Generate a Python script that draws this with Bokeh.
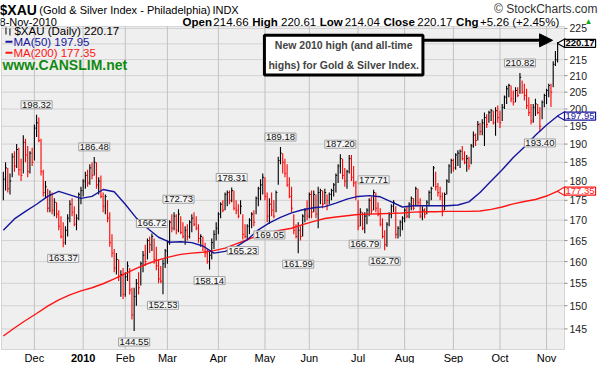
import math
from bokeh.plotting import figure
from bokeh.models import (Range1d, Label, Arrow, NormalHead, BoxAnnotation, ColumnDataSource)
from bokeh.embed import file_html
from bokeh.resources import INLINE

# ---------------- data ----------------
symbol = "$XAU"
last_date = "8-Nov-2010"
last_open = 214.66
month_labels = ["Dec", "2010", "Feb", "Mar", "Apr", "May", "Jun", "Jul", "Aug", "Sep", "Oct", "Nov"]
# trading sessions shown per month: Nov-2009 (from the 10th) ... Nov-2010 (to the 8th)
month_sessions = [14, 22, 19, 19, 23, 21, 20, 22, 21, 22, 21, 21, 6]
price_ticks = [145, 150, 155, 160, 165, 170, 175, 180, 185, 190, 195, 200, 205, 210, 215, 220, 225]

high = [
    182.5, 185.0, 183.5, 182.0, 187.5, 188.0, 190.0, 189.0, 186.0, 192.5, 191.5, 189.5, 188.0, 189.0,
    195.5, 198.32, 197.5, 191.5, 183.0, 180.0, 178.0, 177.5, 177.0, 175.5, 174.5, 172.5, 171.0, 169.5,
    168.5, 171.5, 175.0, 175.5, 173.5, 171.5, 177.0, 178.5,
    180.5, 182.5, 183.0, 184.5, 185.0, 186.48, 185.0, 181.0, 181.5, 177.0, 176.5, 175.0, 172.0, 166.5,
    163.0, 162.0, 160.5, 158.0, 158.5,
    157.5, 160.0, 158.5, 154.0, 154.0, 156.0, 157.5, 160.0, 162.5, 164.0, 165.5, 166.0, 166.72, 165.5,
    163.5, 160.5, 159.0, 160.5, 163.0,
    165.0, 170.0, 171.5, 172.0, 171.5, 172.73, 171.0, 169.5, 168.5, 169.0, 170.0, 171.5, 172.0, 171.0,
    169.0, 166.5, 166.0, 164.5, 163.0, 162.5, 165.5, 167.5, 169.5,
    172.0, 174.5, 175.0, 177.0, 177.5, 177.5, 178.31, 177.5, 175.0, 174.0, 175.0, 171.5, 169.0, 169.0,
    170.5, 172.0, 172.5, 176.0, 178.5, 180.5, 182.0,
    181.0, 177.0, 175.5, 177.0, 175.0, 177.5, 186.5, 189.18, 187.5, 186.0, 184.5, 181.0, 178.5, 171.5,
    169.0, 169.5, 168.5, 171.5, 173.0, 175.0,
    177.0, 177.5, 177.5, 176.5, 178.5, 178.0, 177.5, 178.0, 176.5, 177.0, 178.0, 179.5, 182.0, 184.5,
    187.20, 186.0, 183.5, 183.0, 187.0, 187.0, 184.0, 180.0,
    175.0, 173.0, 172.0, 172.0, 173.0, 175.5, 176.0, 177.71, 177.0, 174.5, 173.0, 170.5, 167.5, 169.5,
    172.0, 174.0, 175.0, 173.5, 168.5, 170.0, 171.0,
    173.0, 173.5, 174.5, 176.0, 175.5, 178.5, 178.0, 175.5, 173.5, 173.0, 175.0, 177.5, 178.5, 184.0,
    182.5, 179.5, 178.5, 177.0, 177.0, 180.5, 184.5, 186.0,
    186.0, 187.5, 188.3, 188.5, 189.5, 188.0, 187.0, 186.5, 190.0, 193.5, 193.0, 196.5, 196.0, 197.0,
    199.0, 198.5, 199.5, 200.0, 199.5, 200.5, 201.0,
    199.5, 201.5, 204.0, 206.9, 207.5, 207.0, 205.5, 206.5, 206.5, 210.82, 208.5, 207.5, 206.0, 203.5,
    201.5, 201.5, 203.0, 201.5, 200.5, 202.5, 204.5,
    206.0, 207.5, 207.5, 214.5, 217.7, 220.61,
]
low = [
    175.0, 177.5, 177.0, 176.5, 181.0, 182.5, 183.5, 181.5, 180.0, 182.0, 185.0, 181.0, 182.0, 184.0,
    185.5, 192.0, 190.5, 181.5, 176.0, 175.5, 172.0, 172.0, 171.5, 171.0, 170.5, 167.5, 165.5, 163.37,
    164.0, 166.0, 169.5, 171.0, 168.5, 167.5, 170.0, 174.0,
    176.0, 178.0, 178.5, 179.0, 180.5, 181.5, 178.0, 176.5, 175.5, 172.0, 171.5, 169.5, 163.5, 161.0,
    157.5, 157.0, 155.5, 152.0, 151.5,
    152.0, 155.5, 152.5, 147.0, 144.55, 150.0, 152.5, 154.5, 157.5, 159.0, 160.5, 162.0, 162.5, 159.5,
    158.0, 155.0, 155.0, 152.53, 158.5,
    159.5, 164.0, 167.0, 167.5, 166.5, 167.0, 166.5, 165.5, 164.0, 165.0, 165.5, 167.0, 168.5, 167.5,
    164.5, 163.5, 162.5, 161.0, 159.5, 158.14, 160.5, 163.0, 165.0,
    166.5, 170.5, 172.0, 172.5, 173.5, 174.0, 174.5, 172.5, 171.5, 170.5, 171.5, 165.23, 165.5, 165.0,
    166.5, 168.0, 168.5, 171.5, 173.5, 175.0, 176.5,
    175.0, 169.5, 169.05, 171.0, 170.5, 172.0, 179.0, 184.5, 182.0, 181.0, 178.5, 175.5, 172.0, 166.5,
    165.5, 161.99, 165.0, 166.0, 169.5, 170.0,
    170.5, 170.5, 172.0, 170.5, 168.0, 174.0, 173.0, 174.0, 172.5, 174.0, 175.0, 176.0, 177.0, 179.5,
    182.0, 180.5, 178.5, 178.0, 182.0, 180.0, 178.5, 175.0,
    167.5, 168.5, 167.5, 166.79, 169.0, 171.0, 171.5, 172.5, 172.0, 171.0, 168.5, 165.5, 162.70, 163.5,
    168.5, 170.5, 172.0, 165.5, 165.5, 166.0, 167.5,
    169.5, 170.5, 170.5, 172.5, 172.5, 173.5, 173.5, 170.5, 170.0, 170.5, 171.5, 173.5, 175.0, 178.5,
    177.5, 176.0, 175.0, 171.0, 172.5, 176.5, 179.5, 182.0,
    182.5, 183.0, 184.0, 183.5, 185.5, 184.5, 182.5, 183.0, 184.5, 189.0, 189.5, 191.0, 192.5, 192.5,
    189.5, 194.5, 196.0, 196.5, 195.5, 192.3, 196.0,
    194.5, 196.5, 200.0, 201.5, 203.5, 202.0, 201.0, 202.0, 203.5, 204.5, 204.5, 202.5, 200.0, 198.0,
    195.5, 196.0, 198.0, 198.5, 193.40, 197.0, 200.5,
    201.5, 203.5, 200.6, 206.5, 213.0, 214.04,
]
close = [
    180.5, 183.5, 178.0, 180.0, 186.5, 184.0, 188.5, 183.0, 181.5, 190.5, 187.0, 182.5, 187.5, 185.0,
    194.5, 196.0, 191.0, 182.5, 177.0, 178.5, 173.0, 176.5, 172.5, 174.5, 171.5, 168.5, 166.0, 164.5,
    167.5, 170.5, 174.0, 172.0, 169.0, 170.5, 176.5, 177.5,
    180.0, 181.5, 179.5, 183.5, 181.5, 185.0, 179.0, 180.0, 176.0, 173.5, 176.0, 170.5, 164.5, 162.0,
    158.5, 160.5, 156.5, 157.0, 152.5,
    156.5, 159.0, 153.5, 148.0, 152.0, 155.0, 154.0, 159.5, 161.5, 160.0, 165.0, 164.0, 166.0, 160.5,
    159.0, 156.0, 155.5, 159.5, 162.5,
    164.5, 169.5, 168.0, 171.0, 167.5, 171.5, 167.0, 166.0, 167.5, 166.0, 169.5, 170.5, 169.0, 168.0,
    165.5, 166.0, 163.5, 162.0, 160.0, 161.5, 164.5, 166.5, 168.0,
    171.5, 174.0, 172.5, 176.5, 177.0, 175.0, 177.5, 173.0, 172.5, 171.0, 173.5, 166.5, 166.0, 168.5,
    170.0, 171.5, 169.5, 175.5, 178.0, 179.0, 181.0,
    176.0, 171.0, 174.0, 172.5, 171.0, 177.0, 185.5, 187.5, 185.0, 182.0, 179.0, 176.0, 173.0, 167.5,
    166.0, 167.5, 166.0, 171.0, 172.5, 171.0,
    176.5, 172.0, 176.5, 171.5, 177.0, 177.5, 174.0, 177.0, 175.0, 176.5, 177.5, 179.0, 181.5, 184.0,
    186.0, 181.5, 180.0, 182.5, 186.0, 181.0, 179.5, 176.0,
    168.5, 172.0, 168.0, 171.0, 172.5, 175.0, 172.5, 177.0, 173.0, 171.5, 169.0, 166.0, 164.0, 169.0,
    171.5, 173.5, 174.5, 166.5, 168.0, 169.5, 170.5,
    172.5, 171.0, 174.0, 175.5, 173.0, 178.0, 174.5, 171.0, 172.5, 171.5, 174.5, 177.0, 178.0, 183.5,
    178.5, 177.0, 176.0, 172.5, 176.5, 180.0, 184.0, 185.5,
    183.5, 187.0, 187.5, 188.0, 186.0, 185.0, 186.0, 184.0, 189.5, 192.5, 191.0, 195.5, 193.5, 196.0,
    197.5, 195.5, 199.0, 199.5, 196.0, 199.5, 197.5,
    196.0, 200.5, 203.5, 206.0, 207.0, 203.0, 202.0, 205.5, 204.0, 209.5, 205.0, 204.0, 201.0, 199.0,
    196.5, 200.5, 201.5, 199.0, 195.0, 202.0, 204.0,
    205.5, 207.0, 205.0, 213.5, 214.91, 220.17,
]
ma_step = 5
ma50 = [167.5, 170.3, 172.2, 174.0, 176.0, 177.3, 176.4, 175.5, 176.0, 177.8, 177.2, 174.0, 170.5,
        168.0, 165.8, 164.6, 164.7, 164.5, 163.7, 162.0, 162.4, 163.5, 165.2, 167.6, 169.3, 170.7,
        171.8, 172.6, 173.1, 173.4, 174.3, 175.3, 176.0, 176.2, 175.9, 174.6, 173.3, 173.6, 173.6,
        173.6, 173.6, 173.8, 174.6, 177.0, 180.0, 183.0, 186.3, 189.2, 192.5, 195.4, 197.95]
ma200 = [143.5, 145.2, 146.8, 148.3, 149.9, 151.3, 152.4, 153.3, 154.0, 154.9, 156.0, 157.2, 158.4,
         159.5, 160.4, 161.1, 161.7, 162.0, 162.2, 162.6, 163.2, 164.2, 165.2, 166.3, 167.0, 167.5,
         168.0, 168.9, 169.7, 170.4, 170.8, 171.1, 171.4, 171.5, 171.6, 171.7, 171.8, 172.0, 172.1,
         172.1, 172.2, 172.2, 172.2, 172.3, 172.7, 173.3, 174.1, 174.7, 175.2, 176.1, 177.35]
marked_highs = [15, 41, 67, 79, 103, 125, 152, 167, 233]
marked_lows = [27, 59, 72, 93, 108, 120, 133, 163, 172, 242]
note_text = "New 2010 high (and all-time\nhighs) for Gold & Silver Index."

# ---------------- derived ----------------
n = len(close)
xs = list(range(n))
colors = ["#000000" if i == 0 or close[i] >= close[i - 1] else "#ff0000" for i in xs]
month_starts = []
acc = 0
for d in month_sessions[:-1]:
    acc += d
    month_starts.append(acc)
ma_x = [i * ma_step for i in range(len(ma50))]
chg = close[-1] - close[-2]
pct = chg / close[-2] * 100

# ---------------- layout ----------------
FONT = "Liberation Sans"
W, H = 598, 363                     # canvas == frame (annotations are clipped to the frame)
PL, PR, PT, PB = 1, 564, 26, 349    # price-panel box inside the canvas (pixels)
X_LO, X_HI = -0.83, 253.1           # price-panel session range
Y_LO, Y_HI = 140.7, 225.65          # price-panel price range (log)
ppx = (PR - PL) / (X_HI - X_LO)
kpy = math.log(Y_HI / Y_LO) / (PB - PT)
x_range = Range1d(X_LO - PL / ppx, X_HI + (W - PR) / ppx)
y_range = Range1d(Y_LO * math.exp(-(H - PB) * kpy), Y_HI * math.exp(PT * kpy))


def sx(X):  # reference pixel x -> canvas x
    return PL + (X - 7) * (PR - PL) / 566.0


def sy(Y):  # reference pixel y -> canvas y measured from bottom
    return H - (PT + (Y - 32) * (PB - PT) / 327.0)


p = figure(width=W, height=H, x_range=x_range, y_range=y_range, y_axis_type="log",
           x_axis_location=None, y_axis_location=None, min_border=0,
           output_backend="svg", toolbar_location=None,
           background_fill_color="white", border_fill_color="white", outline_line_color=None)
p.xgrid.visible = False
p.ygrid.visible = False

# price panel background, grid and right-hand price scale
p.add_layout(BoxAnnotation(left=X_LO, right=X_HI, bottom=Y_LO, top=Y_HI, fill_color="#efefef",
                           fill_alpha=1, line_color=None, level="underlay"))
p.segment(x0=[X_LO] * len(price_ticks), x1=[X_HI] * len(price_ticks), y0=price_ticks,
          y1=price_ticks, line_color="#d2d2d2", line_width=1)
p.segment(x0=month_starts, x1=month_starts, y0=[Y_LO] * len(month_starts),
          y1=[Y_HI] * len(month_starts), line_color="#c2c2c2", line_width=1)
p.segment(x0=[X_HI] * len(price_ticks), x1=[X_HI + 3 / ppx] * len(price_ticks), y0=price_ticks,
          y1=price_ticks, line_color="#8a8a8a", line_width=1)

src = ColumnDataSource(dict(x=xs, h=high, l=low, c=close,
                            xr=[i + 0.6 for i in xs], col=colors))
p.segment(x0="x", y0="l", x1="x", y1="h", line_color="col", line_width=1.1, source=src)
p.segment(x0="x", y0="c", x1="xr", y1="c", line_color="col", line_width=1, source=src)

p.line(ma_x, ma200, line_color="#ff1414", line_width=1.4)
p.line(ma_x, ma50, line_color="#16169c", line_width=1.4)

p.add_layout(BoxAnnotation(left=X_LO, right=X_HI, bottom=Y_LO, top=Y_HI, fill_alpha=0,
                           line_color="#8a8a8a", line_width=1))


def txt(x, y, s, size="11px", color="#000000", bold=False, align="left",
        xu="screen", yu="screen", font=FONT, **kw):
    lab = Label(x=x, y=y, x_units=xu, y_units=yu, text=s, text_font=font,
                text_font_size=size, text_color=color,
                text_font_style="bold" if bold else "normal",
                text_align=align, text_baseline="middle", **kw)
    p.add_layout(lab)
    return lab


for t in price_ticks:
    txt(X_HI, t, str(t), size="10.5px", color="#222222", xu="data", yu="data", x_offset=5)

# high / low call-outs
box_style = dict(background_fill_color="#f6f6f6", border_line_color="#a0a0a0", padding=1)
for i in marked_highs:
    txt(i, high[i], f"{high[i]:.2f}", size="9.5px", color="#111111", align="center",
        xu="data", yu="data", y_offset=10, **box_style)
for i in marked_lows:
    txt(i, low[i], f"{low[i]:.2f}", size="9.5px", color="#111111", align="center",
        xu="data", yu="data", y_offset=-11, **box_style)

# header
txt(sx(5), H - 9, symbol, size="14px", bold=True)
txt(sx(45), H - 9.5, "(Gold & Silver Index - Philadelphia)", size="11px")
txt(sx(219), H - 9.5, "INDX", size="11px")
txt(W - 1, H - 8, "\u00a9 StockCharts.com", size="12px", color="#333333", align="right")
txt(sx(5), H - 21.5, last_date, size="11px")
pieces = [("Open", True, 189), (f"{last_open:.2f}", False, 220), ("High", True, 259),
          (f"{high[-1]:.2f}", False, 288), ("Low", True, 327), (f"{low[-1]:.2f}", False, 352),
          ("Close", True, 391), (f"{close[-1]:.2f}", False, 425), ("Chg", True, 464),
          (f"+{chg:.2f} (+{pct:.2f}%)", False, 488)]
for s, b, X in pieces:
    txt(sx(X), H - 21.5, s, size="11.5px", bold=b)
txt(sx(593), H - 21, "\u25b2", size="8px", color="#11aa11")


# legend
def sbox(l, r, b, t, color):
    p.add_layout(BoxAnnotation(left=l, right=r, bottom=b, top=t,
                               left_units="screen", right_units="screen", bottom_units="screen",
                               top_units="screen", fill_color=color, fill_alpha=1, line_color=None))


sbox(sx(11), sx(12), sy(40), sy(33), "#000000")
sbox(sx(15), sx(16), sy(41), sy(34), "#000000")
txt(sx(20), sy(36.5), f"{symbol} (Daily) {close[-1]:.2f}", size="11.5px")
sbox(sx(11), sx(18), sy(48.5), sy(46.5), "#16169c")
txt(sx(19), sy(47.5), f"MA(50) {ma50[-1]:.2f}", size="11.5px", color="#16169c")
sbox(sx(11), sx(18), sy(59.5), sy(57.5), "#ff1414")
txt(sx(19), sy(58.5), f"MA(200) {ma200[-1]:.2f}", size="11.5px", color="#ff1414")
txt(sx(8), sy(70.5), "www.CANSLIM.net", size="14px", bold=True, color="#128a12")

# note box + arrow
p.add_layout(Arrow(x_start=sx(420), y_start=sy(46), x_end=sx(561), y_end=sy(46),
                   start_units="screen", end_units="screen", line_width=3, line_color="#000000",
                   end=NormalHead(size=13, fill_color="#000000", line_color="#000000")))
note = Label(x=sx(351), y=sy(61), x_units="screen", y_units="screen", text=note_text,
             text_font=FONT, text_font_size="10.5px", text_font_style="bold", text_align="center",
             text_baseline="middle", background_fill_color="white", border_line_color="#000000",
             border_line_width=3, padding=4, text_line_height=1.65)
p.add_layout(note)

# right-edge value boxes with pointers
tags = [(close[-1], "#000000", True), (ma50[-1], "#16169c", False), (ma200[-1], "#ff1414", False)]
p.scatter(x=[X_HI - 2.0 / ppx] * 3, y=[t[0] for t in tags], marker="triangle", angle=math.pi / 2,
          size=9, fill_color="white", line_color=[t[1] for t in tags], line_width=1.2)
for v, col, b in tags:
    txt(X_HI, v, f"{v:.2f}", size="9.5px", color=col, bold=b, xu="data", yu="data", x_offset=0,
        background_fill_color="white", border_line_color=col, border_line_width=1.2, padding=1)

# month labels
for xi, lab in zip(month_starts, month_labels):
    txt(xi, H - 357, lab, size="11px", bold=(lab == "2010"), align="center", xu="data", yu="screen")

open("out.html", "w").write(file_html(p, INLINE))
